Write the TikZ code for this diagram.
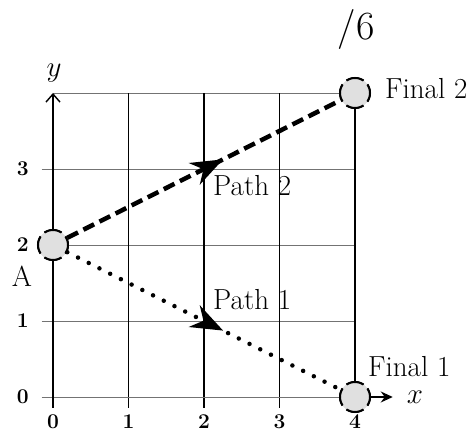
\documentclass[tikz,border=0pt]{standalone}
\usepackage{fix-cm}
\usepackage{fontspec}
\setmainfont{Latin Modern Roman}
\usetikzlibrary{arrows.meta,decorations.markings}
\tikzset{
  gridh/.style={draw=black!55,line width=0.9pt},
  gridv/.style={draw=black,line width=1.3pt},
  axisline/.style={draw=black,line width=1.4pt},
  endpt/.style={circle,minimum size=30pt,inner sep=0pt,fill=black!12,draw=black,
    line width=2pt,dash pattern=on 18pt off 5.5pt,dash phase=9pt},
  lbl/.style={font=\fontsize{29}{32}\selectfont,inner sep=0pt},
  ticklbl/.style={font=\fontsize{21}{24}\selectfont\bfseries,inner sep=0pt},
  pathtwo/.style={line width=4.5pt,dash pattern=on 12pt off 6pt,
    postaction={decorate},
    decoration={markings,mark=at position 0.57 with {\arrow{Stealth[length=32pt,width=24pt,inset=10pt]}}}},
  pathone/.style={line width=4.5pt,dash pattern=on 0pt off 12pt,line cap=round,
    postaction={decorate},
    decoration={markings,mark=at position 0.57 with {\arrow{Stealth[length=32pt,width=24pt,inset=10pt]}}}},
}
\begin{document}
\begin{tikzpicture}[x=1pt,y=1pt]
\useasboundingbox (0,0) rectangle (476,435);
\begin{scope}[shift={(53,38)},x=75.5pt,y=76pt]
  % horizontal grid lines
  \foreach \j in {1,2,3} \draw[gridh] (-0.15,\j) -- (4,\j);
  \draw[gridh] (0,4) -- (4,4);
  % vertical grid lines
  \foreach \i in {1,2,3} \draw[gridv] (\i,-0.14) -- (\i,4);
  % endpoints
  \node[endpt] (A) at (0,2) {};
  \node[endpt] (F2) at (4,4) {};
  \node[endpt] (F1) at (4,0) {};
  \draw[gridv] (F1) -- (F2);
  % axes
  \coordinate (xs) at (-0.15,0);
  \coordinate (xe) at (4.5,0);
  \coordinate (ys) at (0,-0.14);
  \coordinate (ye) at (0,4);
  \draw[gridh] (xs) -- (F1);
  \draw[axisline,-{Stealth[length=12pt,width=11pt,inset=4pt]}] (F1) -- (xe);
  \draw[axisline,-{Straight Barb[length=8pt,width=14pt]}] (ys) -- (ye);
  % redraw endpoints on top
  \node[endpt] at (0,2) {};
  \node[endpt] at (4,4) {};
  \node[endpt] at (4,0) {};
  % paths
  \draw[pathtwo] (A) -- (F2);
  \draw[pathone] (A) -- (F1);
  % tick labels
  \foreach \i in {0,1,2,3,4} \node[ticklbl] (tx\i) at (\i,-0.33) {\i};
  \foreach \j in {0,1,2,3} \node[ticklbl] (ty\j) at (-0.4,\j) {\j};
\end{scope}
\node[lbl] (xl) at (415,38) {$x$};
\node[lbl] (yl) at (54,362) {$y$};
\node[lbl,anchor=west] (f2l) at (385,346) {Final 2};
\node[lbl,anchor=west] (f1l) at (368,68) {Final 1};
\node[lbl,anchor=west] (p2l) at (213,249) {Path 2};
\node[lbl,anchor=west] (p1l) at (213,135) {Path 1};
\node[lbl] (al) at (22,159) {A};
\node[font=\fontsize{40}{44}\selectfont,inner sep=0pt] (score) at (356,405) {/6};
\end{tikzpicture}
\end{document}
